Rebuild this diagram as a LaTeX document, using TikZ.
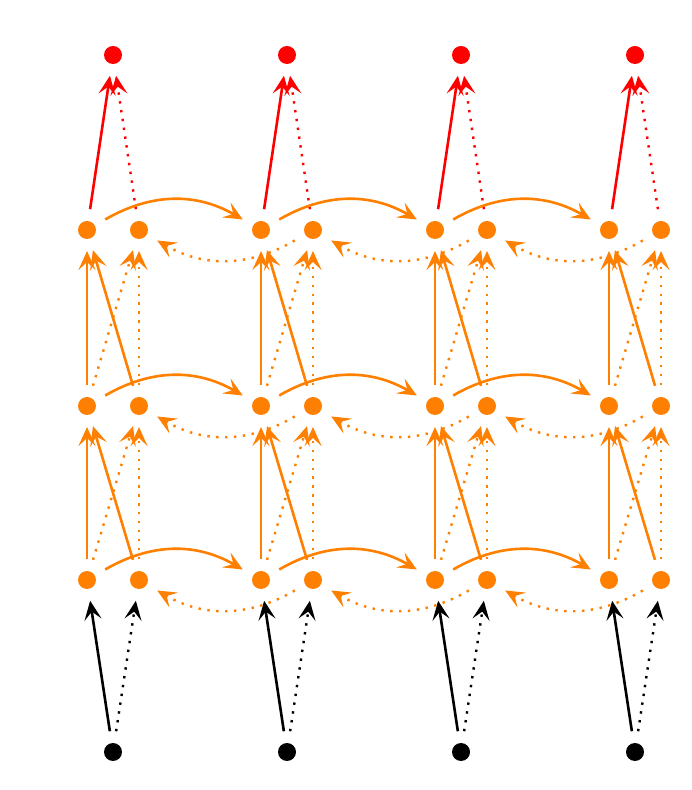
\documentclass[tikz,border=0pt]{standalone}
\usetikzlibrary{arrows.meta}
\begin{document}
\begin{tikzpicture}[x=1pt,y=1pt,>={Stealth[length=19pt,width=17pt,inset=8pt]},line width=2.6pt]
        \tikzstyle{unit} = [circle, fill, minimum size=18pt, inner sep=0pt, outer sep=12pt]
        \tikzstyle{dots} = [dash pattern=on 2.4pt off 6.5pt, line width=2.4pt]

        \useasboundingbox (0,0) rectangle (692,790);

        % Nodes
        \foreach \t/\xf in {0/87,1/261,2/435,3/609} {
            \node[unit, black] (x\t) at (\xf+26, 38) {};
            \node[unit, red] (y\t) at (\xf+26, 735) {};
            \foreach \l/\yl in {1/210,2/384,3/560} {
                \node[unit, orange] (f\l\t) at (\xf, \yl) {};
                \node[unit, orange] (b\l\t) at (\xf+52, \yl) {};
            }
        }

        % Edges
        \foreach \t in {0,...,3} {
            \path[->, black] (x\t) edge (f1\t);
            \path[->, black, dots] (x\t) edge (b1\t);
            \foreach \l/\m in {1/2,2/3} {
                \path[->, orange] (f\l\t) edge (f\m\t) (b\l\t) edge (f\m\t);
                \path[->, orange, dots] (f\l\t) edge (b\m\t) (b\l\t) edge (b\m\t);
            }
            \path[->, red] (f3\t) edge (y\t);
            \path[->, red, dots] (b3\t) edge (y\t);
        }
        \foreach \t/\s in {0/1,1/2,2/3} {
            \foreach \l in {1,2,3} {
                \path[->, orange] (f\l\t) edge[bend left=30] (f\l\s);
                \path[->, orange, dots] (b\l\s) edge[bend left=30] (b\l\t);
            }
        }
    \end{tikzpicture}
\end{document}
